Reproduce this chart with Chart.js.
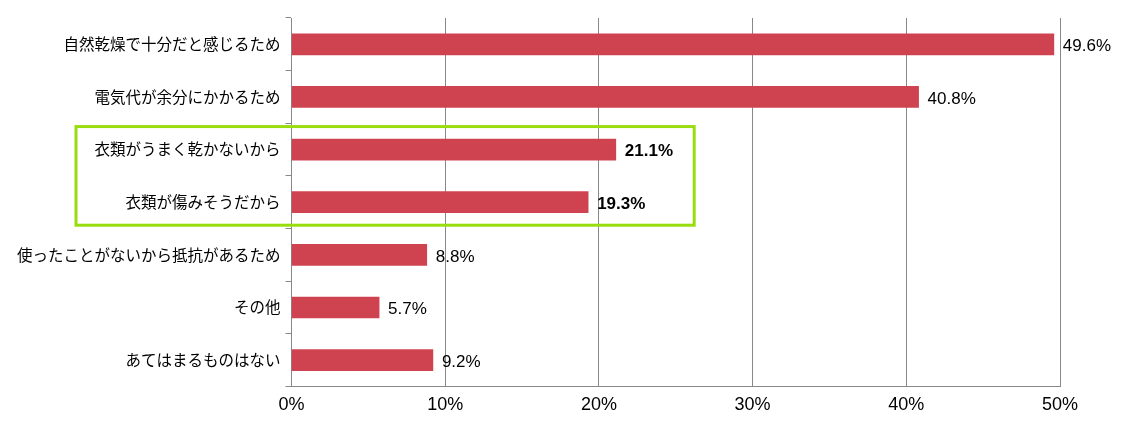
<!DOCTYPE html><html><head><meta charset="utf-8">
<script src="https://cdn.jsdelivr.net/npm/chart.js@4"></script>
<style>body{margin:0;background:#fff}#w{width:1125px;height:438px}</style></head><body><div id="w"><canvas id="c"></canvas></div>
<script>
const categories=["自然乾燥で十分だと感じるため","電気代が余分にかかるため","衣類がうまく乾かないから","衣類が傷みそうだから","使ったことがないから抵抗があるため","その他","あてはまるものはない"];
const values=[49.6,40.8,21.1,19.3,8.8,5.7,9.2];
const boldRows=[2,3];
const xTicks=[0,10,20,30,40,50];
const plug={id:'p',afterDatasetsDraw(ch){const c=ch.ctx,m=ch.getDatasetMeta(0);c.save();c.fillStyle='#000';c.textBaseline='middle';
m.data.forEach((b,i)=>{c.font=(boldRows.includes(i)?'bold ':'')+'17px "Liberation Sans"';c.fillText(values[i].toFixed(1)+'%',b.x+9,b.y+2);});
const y=ch.scales.y,x=ch.scales.x;const t=y.getPixelForValue(2)-23,bt=y.getPixelForValue(3)+23;
c.strokeStyle='#99dd11';c.lineWidth=3;c.strokeRect(76,t,x.getPixelForValue(26.2)-76,bt-t);c.restore();}};
new Chart(document.getElementById('c'),{type:'bar',data:{labels:categories,datasets:[{data:values,backgroundColor:'#cf4350',barThickness:21}]},
options:{indexAxis:'y',responsive:true,maintainAspectRatio:false,animation:false,layout:{padding:{top:18,right:65,bottom:14,left:12}},
plugins:{legend:{display:false},tooltip:{enabled:false}},
scales:{x:{min:0,max:50,afterBuildTicks(a){a.ticks=xTicks.map(v=>({value:v}));},ticks:{callback:v=>v+'%',color:'#000',font:{size:18,family:'"Liberation Sans"'},padding:8},grid:{color:'#888',drawTicks:false},border:{color:'#888'}},
y:{grid:{offset:true,drawOnChartArea:false,tickLength:6,color:'#888'},border:{color:'#888'},ticks:{color:'#000',font:{size:15.5,family:'"Noto Sans CJK JP"'},padding:5}}}},plugins:[plug]});
</script></body></html>
